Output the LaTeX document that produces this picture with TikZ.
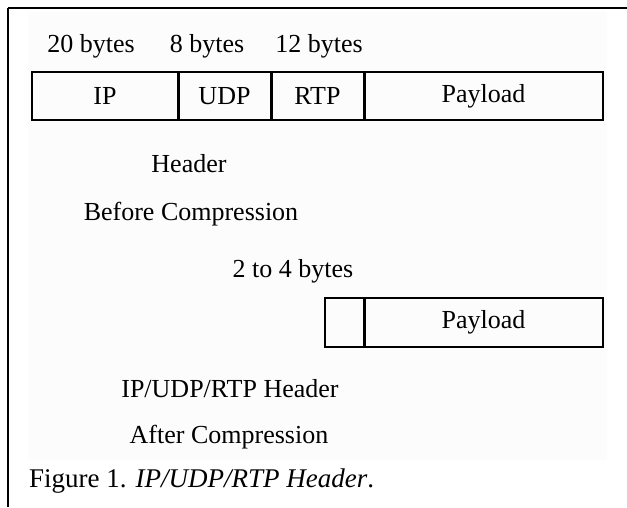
\documentclass[tikz,border=0pt]{standalone}
\usepackage{fontspec}
\setmainfont{Liberation Serif}
\usetikzlibrary{positioning}
\newcommand\diagfont{\fontsize{26}{30}\selectfont}
\newcommand\capfont{\fontsize{27}{32}\selectfont}
\tikzset{
  cell/.style={rectangle,draw,line width=1.2pt,inner sep=0pt,
               minimum height=48pt,font=\diagfont},
  divider/.style={line width=2.2pt},
  lbl/.style={inner sep=0pt,anchor=base,font=\diagfont},
  frame/.style={line width=2pt},
}

\begin{document}
\begin{tikzpicture}[x=1pt,y=-1pt]
  \useasboundingbox (0,0) rectangle (627,507);
  \fill[black!1] (28,12) rectangle (607,460);
  \draw[frame] (8,8) -- (627,8);
  \draw[frame] (8,8) -- (8,507);

  % before compression
  \node[lbl] (sz20) at (91,52) {20 bytes};
  \node[lbl] (sz8)  at (207,52) {8 bytes};
  \node[lbl] (sz12) at (319,52) {12 bytes};

  \node[cell,minimum width=146pt] (ip)  at (105,96)   {IP};
  \node[cell,minimum width=93pt]  (udp) at (224.5,96) {UDP};
  \node[cell,minimum width=93pt]  (rtp) at (317.5,96) {RTP};
  \node[cell,minimum width=239pt] (pay) at (483.5,96) {Payload};
  \draw[divider] (ip.north east) -- (ip.south east);
  \draw[divider] (udp.north east) -- (udp.south east);
  \draw[divider] (rtp.north east) -- (rtp.south east);

  \node[lbl] (hdr)    at (189,172) {Header};
  \node[lbl] (before) at (191,220) {Before Compression};

  % after compression
  \node[lbl] (sz24) at (293,277) {2 to 4 bytes};
  \node[cell,minimum width=39pt,minimum height=49pt]  (chdr) at (344.5,322.5) {};
  \node[cell,minimum width=239pt,minimum height=49pt] (cpay) at (483.5,322.5) {Payload};
  \draw[divider] (chdr.north east) -- (chdr.south east);

  \node[lbl] (iphdr) at (230,397) {IP/UDP/RTP Header};
  \node[lbl] (after) at (229,443) {After Compression};

  \node[inner sep=0pt,anchor=base west,font=\capfont] (cap) at (29,487)
    {Figure 1. \textit{IP/UDP/RTP Header}.};
\end{tikzpicture}
\end{document}
